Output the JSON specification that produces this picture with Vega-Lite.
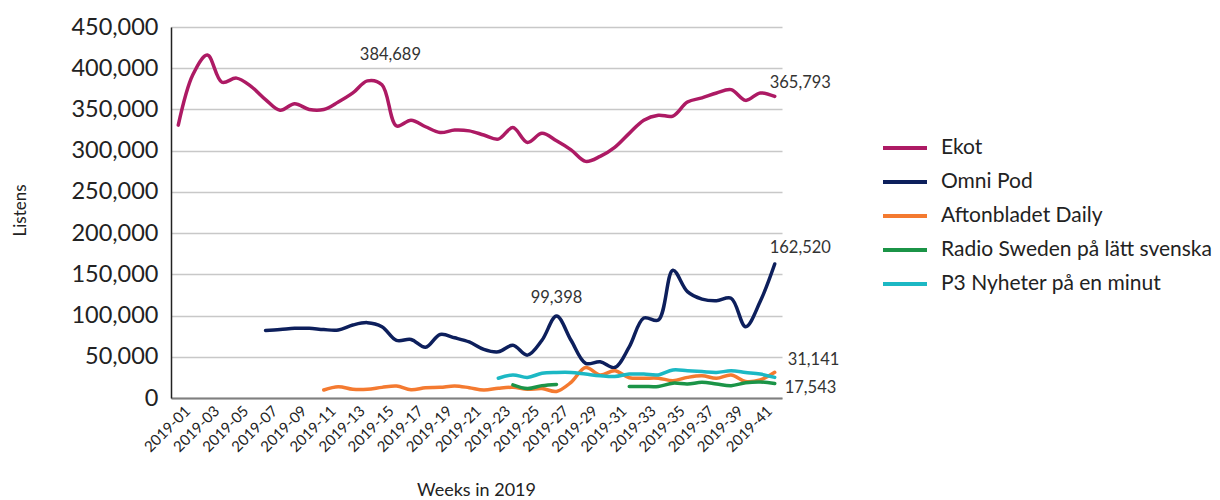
{
  "$schema": "https://vega.github.io/schema/vega-lite/v6.json",
  "width": 611,
  "height": 371,
  "autosize": {"type": "none"},
  "padding": {"left": 171, "top": 27, "right": 438, "bottom": 102},
  "background": "white",
  "config": {
    "font": "Lato",
    "view": {"stroke": null},
    "text": {"font": "Lato", "fontSize": 16.5, "color": "#333333", "baseline": "middle"}
  },
  "datasets": {
    "series": [
      {"week": "2019-01", "series": "Ekot", "segment": "a", "listens": 331000},
      {"week": "2019-02", "series": "Ekot", "segment": "a", "listens": 392000},
      {"week": "2019-03", "series": "Ekot", "segment": "a", "listens": 416000},
      {"week": "2019-04", "series": "Ekot", "segment": "a", "listens": 383000},
      {"week": "2019-05", "series": "Ekot", "segment": "a", "listens": 388000},
      {"week": "2019-06", "series": "Ekot", "segment": "a", "listens": 378000},
      {"week": "2019-07", "series": "Ekot", "segment": "a", "listens": 362000},
      {"week": "2019-08", "series": "Ekot", "segment": "a", "listens": 349000},
      {"week": "2019-09", "series": "Ekot", "segment": "a", "listens": 357000},
      {"week": "2019-10", "series": "Ekot", "segment": "a", "listens": 350000},
      {"week": "2019-11", "series": "Ekot", "segment": "a", "listens": 350000},
      {"week": "2019-12", "series": "Ekot", "segment": "a", "listens": 359000},
      {"week": "2019-13", "series": "Ekot", "segment": "a", "listens": 370000},
      {"week": "2019-14", "series": "Ekot", "segment": "a", "listens": 384689},
      {"week": "2019-15", "series": "Ekot", "segment": "a", "listens": 380000},
      {"week": "2019-16", "series": "Ekot", "segment": "a", "listens": 330000},
      {"week": "2019-17", "series": "Ekot", "segment": "a", "listens": 337000},
      {"week": "2019-18", "series": "Ekot", "segment": "a", "listens": 329000},
      {"week": "2019-19", "series": "Ekot", "segment": "a", "listens": 322000},
      {"week": "2019-20", "series": "Ekot", "segment": "a", "listens": 325000},
      {"week": "2019-21", "series": "Ekot", "segment": "a", "listens": 324000},
      {"week": "2019-22", "series": "Ekot", "segment": "a", "listens": 319000},
      {"week": "2019-23", "series": "Ekot", "segment": "a", "listens": 314000},
      {"week": "2019-24", "series": "Ekot", "segment": "a", "listens": 328000},
      {"week": "2019-25", "series": "Ekot", "segment": "a", "listens": 310000},
      {"week": "2019-26", "series": "Ekot", "segment": "a", "listens": 321000},
      {"week": "2019-27", "series": "Ekot", "segment": "a", "listens": 312000},
      {"week": "2019-28", "series": "Ekot", "segment": "a", "listens": 301000},
      {"week": "2019-29", "series": "Ekot", "segment": "a", "listens": 287000},
      {"week": "2019-30", "series": "Ekot", "segment": "a", "listens": 293000},
      {"week": "2019-31", "series": "Ekot", "segment": "a", "listens": 304000},
      {"week": "2019-32", "series": "Ekot", "segment": "a", "listens": 321000},
      {"week": "2019-33", "series": "Ekot", "segment": "a", "listens": 337000},
      {"week": "2019-34", "series": "Ekot", "segment": "a", "listens": 343000},
      {"week": "2019-35", "series": "Ekot", "segment": "a", "listens": 342000},
      {"week": "2019-36", "series": "Ekot", "segment": "a", "listens": 359000},
      {"week": "2019-37", "series": "Ekot", "segment": "a", "listens": 364000},
      {"week": "2019-38", "series": "Ekot", "segment": "a", "listens": 370000},
      {"week": "2019-39", "series": "Ekot", "segment": "a", "listens": 374000},
      {"week": "2019-40", "series": "Ekot", "segment": "a", "listens": 361000},
      {"week": "2019-41", "series": "Ekot", "segment": "a", "listens": 370000},
      {"week": "2019-42", "series": "Ekot", "segment": "a", "listens": 365793},

      {"week": "2019-07", "series": "Omni Pod", "segment": "a", "listens": 82000},
      {"week": "2019-08", "series": "Omni Pod", "segment": "a", "listens": 83000},
      {"week": "2019-09", "series": "Omni Pod", "segment": "a", "listens": 84500},
      {"week": "2019-10", "series": "Omni Pod", "segment": "a", "listens": 84500},
      {"week": "2019-11", "series": "Omni Pod", "segment": "a", "listens": 83000},
      {"week": "2019-12", "series": "Omni Pod", "segment": "a", "listens": 82500},
      {"week": "2019-13", "series": "Omni Pod", "segment": "a", "listens": 88500},
      {"week": "2019-14", "series": "Omni Pod", "segment": "a", "listens": 91400},
      {"week": "2019-15", "series": "Omni Pod", "segment": "a", "listens": 86500},
      {"week": "2019-16", "series": "Omni Pod", "segment": "a", "listens": 70000},
      {"week": "2019-17", "series": "Omni Pod", "segment": "a", "listens": 71000},
      {"week": "2019-18", "series": "Omni Pod", "segment": "a", "listens": 61500},
      {"week": "2019-19", "series": "Omni Pod", "segment": "a", "listens": 77000},
      {"week": "2019-20", "series": "Omni Pod", "segment": "a", "listens": 73000},
      {"week": "2019-21", "series": "Omni Pod", "segment": "a", "listens": 68000},
      {"week": "2019-22", "series": "Omni Pod", "segment": "a", "listens": 59000},
      {"week": "2019-23", "series": "Omni Pod", "segment": "a", "listens": 56000},
      {"week": "2019-24", "series": "Omni Pod", "segment": "a", "listens": 64000},
      {"week": "2019-25", "series": "Omni Pod", "segment": "a", "listens": 52000},
      {"week": "2019-26", "series": "Omni Pod", "segment": "a", "listens": 70000},
      {"week": "2019-27", "series": "Omni Pod", "segment": "a", "listens": 99398},
      {"week": "2019-28", "series": "Omni Pod", "segment": "a", "listens": 70000},
      {"week": "2019-29", "series": "Omni Pod", "segment": "a", "listens": 42000},
      {"week": "2019-30", "series": "Omni Pod", "segment": "a", "listens": 44000},
      {"week": "2019-31", "series": "Omni Pod", "segment": "a", "listens": 37000},
      {"week": "2019-32", "series": "Omni Pod", "segment": "a", "listens": 62000},
      {"week": "2019-33", "series": "Omni Pod", "segment": "a", "listens": 97000},
      {"week": "2019-34", "series": "Omni Pod", "segment": "a", "listens": 94600},
      {"week": "2019-35", "series": "Omni Pod", "segment": "a", "listens": 155000},
      {"week": "2019-36", "series": "Omni Pod", "segment": "a", "listens": 129000},
      {"week": "2019-37", "series": "Omni Pod", "segment": "a", "listens": 120000},
      {"week": "2019-38", "series": "Omni Pod", "segment": "a", "listens": 118000},
      {"week": "2019-39", "series": "Omni Pod", "segment": "a", "listens": 121000},
      {"week": "2019-40", "series": "Omni Pod", "segment": "a", "listens": 86500},
      {"week": "2019-41", "series": "Omni Pod", "segment": "a", "listens": 117000},
      {"week": "2019-42", "series": "Omni Pod", "segment": "a", "listens": 162520},

      {"week": "2019-11", "series": "Aftonbladet Daily", "segment": "a", "listens": 9700},
      {"week": "2019-12", "series": "Aftonbladet Daily", "segment": "a", "listens": 13700},
      {"week": "2019-13", "series": "Aftonbladet Daily", "segment": "a", "listens": 10500},
      {"week": "2019-14", "series": "Aftonbladet Daily", "segment": "a", "listens": 10500},
      {"week": "2019-15", "series": "Aftonbladet Daily", "segment": "a", "listens": 12900},
      {"week": "2019-16", "series": "Aftonbladet Daily", "segment": "a", "listens": 14600},
      {"week": "2019-17", "series": "Aftonbladet Daily", "segment": "a", "listens": 10000},
      {"week": "2019-18", "series": "Aftonbladet Daily", "segment": "a", "listens": 12500},
      {"week": "2019-19", "series": "Aftonbladet Daily", "segment": "a", "listens": 12900},
      {"week": "2019-20", "series": "Aftonbladet Daily", "segment": "a", "listens": 14600},
      {"week": "2019-21", "series": "Aftonbladet Daily", "segment": "a", "listens": 12500},
      {"week": "2019-22", "series": "Aftonbladet Daily", "segment": "a", "listens": 9700},
      {"week": "2019-23", "series": "Aftonbladet Daily", "segment": "a", "listens": 11800},
      {"week": "2019-24", "series": "Aftonbladet Daily", "segment": "a", "listens": 12900},
      {"week": "2019-25", "series": "Aftonbladet Daily", "segment": "a", "listens": 10500},
      {"week": "2019-26", "series": "Aftonbladet Daily", "segment": "a", "listens": 11500},
      {"week": "2019-27", "series": "Aftonbladet Daily", "segment": "a", "listens": 8000},
      {"week": "2019-28", "series": "Aftonbladet Daily", "segment": "a", "listens": 19000},
      {"week": "2019-29", "series": "Aftonbladet Daily", "segment": "a", "listens": 37000},
      {"week": "2019-30", "series": "Aftonbladet Daily", "segment": "a", "listens": 28000},
      {"week": "2019-31", "series": "Aftonbladet Daily", "segment": "a", "listens": 33000},
      {"week": "2019-32", "series": "Aftonbladet Daily", "segment": "a", "listens": 24600},
      {"week": "2019-33", "series": "Aftonbladet Daily", "segment": "a", "listens": 24000},
      {"week": "2019-34", "series": "Aftonbladet Daily", "segment": "a", "listens": 24000},
      {"week": "2019-35", "series": "Aftonbladet Daily", "segment": "a", "listens": 21000},
      {"week": "2019-36", "series": "Aftonbladet Daily", "segment": "a", "listens": 25000},
      {"week": "2019-37", "series": "Aftonbladet Daily", "segment": "a", "listens": 27000},
      {"week": "2019-38", "series": "Aftonbladet Daily", "segment": "a", "listens": 24000},
      {"week": "2019-39", "series": "Aftonbladet Daily", "segment": "a", "listens": 28000},
      {"week": "2019-40", "series": "Aftonbladet Daily", "segment": "a", "listens": 20000},
      {"week": "2019-41", "series": "Aftonbladet Daily", "segment": "a", "listens": 22000},
      {"week": "2019-42", "series": "Aftonbladet Daily", "segment": "a", "listens": 31141},

      {"week": "2019-24", "series": "Radio Sweden på lätt svenska", "segment": "a", "listens": 16000},
      {"week": "2019-25", "series": "Radio Sweden på lätt svenska", "segment": "a", "listens": 11500},
      {"week": "2019-26", "series": "Radio Sweden på lätt svenska", "segment": "a", "listens": 15000},
      {"week": "2019-27", "series": "Radio Sweden på lätt svenska", "segment": "a", "listens": 16500},
      {"week": "2019-32", "series": "Radio Sweden på lätt svenska", "segment": "b", "listens": 14000},
      {"week": "2019-33", "series": "Radio Sweden på lätt svenska", "segment": "b", "listens": 14000},
      {"week": "2019-34", "series": "Radio Sweden på lätt svenska", "segment": "b", "listens": 14000},
      {"week": "2019-35", "series": "Radio Sweden på lätt svenska", "segment": "b", "listens": 18000},
      {"week": "2019-36", "series": "Radio Sweden på lätt svenska", "segment": "b", "listens": 17000},
      {"week": "2019-37", "series": "Radio Sweden på lätt svenska", "segment": "b", "listens": 19000},
      {"week": "2019-38", "series": "Radio Sweden på lätt svenska", "segment": "b", "listens": 17000},
      {"week": "2019-39", "series": "Radio Sweden på lätt svenska", "segment": "b", "listens": 15000},
      {"week": "2019-40", "series": "Radio Sweden på lätt svenska", "segment": "b", "listens": 18500},
      {"week": "2019-41", "series": "Radio Sweden på lätt svenska", "segment": "b", "listens": 19500},
      {"week": "2019-42", "series": "Radio Sweden på lätt svenska", "segment": "b", "listens": 17543},

      {"week": "2019-23", "series": "P3 Nyheter på en minut", "segment": "a", "listens": 24000},
      {"week": "2019-24", "series": "P3 Nyheter på en minut", "segment": "a", "listens": 28000},
      {"week": "2019-25", "series": "P3 Nyheter på en minut", "segment": "a", "listens": 25000},
      {"week": "2019-26", "series": "P3 Nyheter på en minut", "segment": "a", "listens": 30000},
      {"week": "2019-27", "series": "P3 Nyheter på en minut", "segment": "a", "listens": 31000},
      {"week": "2019-28", "series": "P3 Nyheter på en minut", "segment": "a", "listens": 31000},
      {"week": "2019-29", "series": "P3 Nyheter på en minut", "segment": "a", "listens": 29000},
      {"week": "2019-30", "series": "P3 Nyheter på en minut", "segment": "a", "listens": 27000},
      {"week": "2019-31", "series": "P3 Nyheter på en minut", "segment": "a", "listens": 26000},
      {"week": "2019-32", "series": "P3 Nyheter på en minut", "segment": "a", "listens": 29000},
      {"week": "2019-33", "series": "P3 Nyheter på en minut", "segment": "a", "listens": 29000},
      {"week": "2019-34", "series": "P3 Nyheter på en minut", "segment": "a", "listens": 28000},
      {"week": "2019-35", "series": "P3 Nyheter på en minut", "segment": "a", "listens": 34000},
      {"week": "2019-36", "series": "P3 Nyheter på en minut", "segment": "a", "listens": 33000},
      {"week": "2019-37", "series": "P3 Nyheter på en minut", "segment": "a", "listens": 32000},
      {"week": "2019-38", "series": "P3 Nyheter på en minut", "segment": "a", "listens": 31000},
      {"week": "2019-39", "series": "P3 Nyheter på en minut", "segment": "a", "listens": 33000},
      {"week": "2019-40", "series": "P3 Nyheter på en minut", "segment": "a", "listens": 31000},
      {"week": "2019-41", "series": "P3 Nyheter på en minut", "segment": "a", "listens": 29000},
      {"week": "2019-42", "series": "P3 Nyheter på en minut", "segment": "a", "listens": 25000}
    ]
  },
  "encoding": {
    "x": {
      "field": "week",
      "type": "ordinal",
      "scale": {"type": "point", "padding": 0.5},
      "axis": {
        "title": "Weeks in 2019",
        "values": ["2019-01","2019-03","2019-05","2019-07","2019-09","2019-11","2019-13","2019-15","2019-17","2019-19","2019-21","2019-23","2019-25","2019-27","2019-29","2019-31","2019-33","2019-35","2019-37","2019-39","2019-41"],
        "labelAngle": -45,
        "labelAlign": "right",
        "labelBaseline": "middle",
        "labelFontSize": 15,
        "labelColor": "#222222",
        "labelPadding": 10,
        "labelOffset": 9,
        "ticks": false,
        "domainColor": "#7f7f7f",
        "domainWidth": 2,
        "grid": false,
        "titleFontSize": 18,
        "titleFontWeight": "normal",
        "titleColor": "#222222",
        "titleX": 305,
        "titleY": 92,
        "titleAlign": "center",
        "titleBaseline": "middle"
      }
    },
    "y": {
      "field": "listens",
      "type": "quantitative",
      "scale": {"domain": [0, 450000], "nice": false},
      "axis": {
        "title": "Listens",
        "values": [0, 50000, 100000, 150000, 200000, 250000, 300000, 350000, 400000, 450000],
        "format": ",d",
        "labelFontSize": 23.5,
        "labelColor": "#222222",
        "labelPadding": 13,
        "ticks": false,
        "domainColor": "#222222",
        "domainWidth": 1.5,
        "gridColor": "#c8c8c8",
        "gridWidth": 1.5,
        "titleFontSize": 17,
        "titleFontWeight": "normal",
        "titleColor": "#222222",
        "titleAngle": -90,
        "titleX": -151,
        "titleY": 183,
        "titleAlign": "center",
        "titleBaseline": "middle"
      }
    }
  },
  "layer": [
    {
      "data": {"name": "series"},
      "mark": {"type": "line", "strokeWidth": 3.5, "interpolate": "catmull-rom", "strokeCap": "round"},
      "encoding": {
        "color": {
          "field": "series",
          "type": "nominal",
          "scale": {
            "domain": ["Ekot", "Omni Pod", "Aftonbladet Daily", "Radio Sweden på lätt svenska", "P3 Nyheter på en minut"],
            "range": ["#ad1a64", "#0d1f5c", "#f47a30", "#1b9447", "#1cb8c4"]
          },
          "legend": {
            "title": null,
            "orient": "none",
            "legendX": 710,
            "legendY": 97,
            "symbolType": "stroke",
            "symbolSize": 1936,
            "symbolStrokeWidth": 4,
            "rowPadding": 0,
            "labelOffset": 12,
            "labelFontSize": 21,
            "labelColor": "#222222",
            "labelLimit": 400
          }
        },
        "detail": {"field": "segment", "type": "nominal"}
      }
    },
    {
      "data": {"values": [{"week": "2019-14", "listens": 384689, "label": "384,689"}]},
      "mark": {"type": "text", "align": "center", "dx": 23, "dy": -26},
      "encoding": {"text": {"field": "label"}}
    },
    {
      "data": {"values": [{"week": "2019-27", "listens": 99398, "label": "99,398"}]},
      "mark": {"type": "text", "align": "center", "dy": -18},
      "encoding": {"text": {"field": "label"}}
    },
    {
      "data": {"values": [{"week": "2019-42", "listens": 365793, "label": "365,793"}]},
      "mark": {"type": "text", "align": "left", "dx": -5, "dy": -13},
      "encoding": {"text": {"field": "label"}}
    },
    {
      "data": {"values": [{"week": "2019-42", "listens": 162520, "label": "162,520"}]},
      "mark": {"type": "text", "align": "left", "dx": -5, "dy": -16},
      "encoding": {"text": {"field": "label"}}
    },
    {
      "data": {"values": [{"week": "2019-42", "listens": 31141, "label": "31,141"}]},
      "mark": {"type": "text", "align": "left", "dx": 13, "dy": -12},
      "encoding": {"text": {"field": "label"}}
    },
    {
      "data": {"values": [{"week": "2019-42", "listens": 17543, "label": "17,543"}]},
      "mark": {"type": "text", "align": "left", "dx": 10, "dy": 4},
      "encoding": {"text": {"field": "label"}}
    }
  ]
}
